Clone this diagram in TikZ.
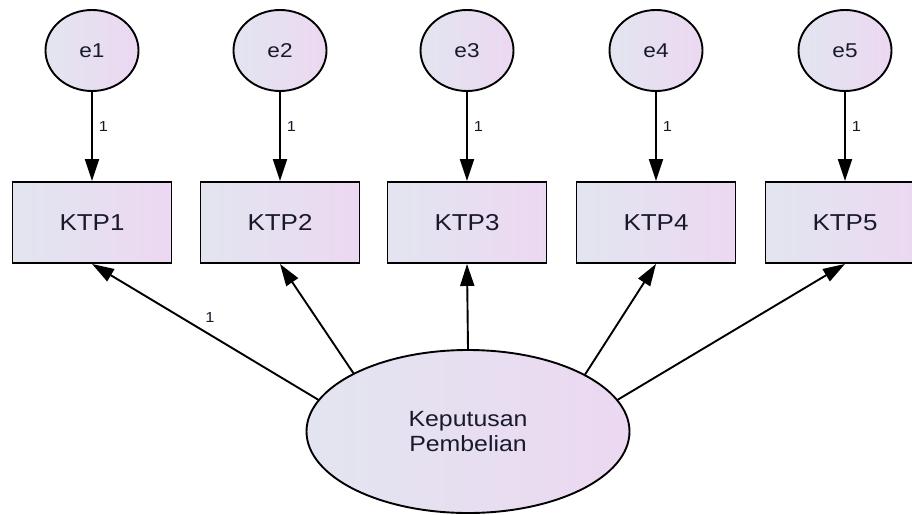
\documentclass[tikz,border=0pt]{standalone}
\usepackage{fontspec}
\setmainfont{Liberation Sans}
\usetikzlibrary{arrows.meta,shapes.geometric}
\definecolor{gleft}{RGB}{226,229,239}
\definecolor{gright}{RGB}{236,216,242}
\definecolor{txt}{RGB}{25,25,45}
\newcommand\widetext[1]{\scalebox{1.13}[1]{#1}}
\tikzset{
  shade box/.style={draw=black, line width=1.9pt, left color=gleft, right color=gright, text=txt},
  errnode/.style={shade box, ellipse, minimum width=93pt, minimum height=81pt, inner sep=0pt, font=\fontsize{20}{24}\selectfont},
  obsnode/.style={shade box, rectangle, minimum width=159pt, minimum height=81pt, inner sep=0pt, font=\fontsize{23}{27}\selectfont},
  latnode/.style={shade box, ellipse, minimum width=323pt, minimum height=163pt, inner sep=0pt, align=center, font=\fontsize{22}{25}\selectfont},
  conn/.style={line width=1.9pt, -{Triangle[length=22pt,width=14pt]}},
  wlabel/.style={font=\fontsize{14.5}{16}\selectfont, text=txt, inner sep=0pt}
}
\begin{document}
\begin{tikzpicture}[x=1pt,y=-1pt]
\clip (0,0) rectangle (912,514);
\fill[white] (0,0) rectangle (912,514);
\foreach \i/\cx in {1/92,2/280,3/467,4/656,5/845}{
  \node[errnode] (e\i) at (\cx,50.5) {\widetext{e\i}};
  \node[obsnode] (k\i) at (\cx,222.5) {\widetext{KTP\i}};
  \draw[conn] (e\i.south) -- (k\i.north);
  \node[wlabel] (l\i) at (\cx+11.5,127) {\widetext{1}};
}
\node[latnode] (kp) at (468,431.5) {\widetext{Keputusan}\\\widetext{Pembelian}};
\draw[conn] (kp.168) -- (k1.south);
\draw[conn] (kp.153.4) -- (k2.south);
\draw[conn] (kp.90) -- (k3.south);
\draw[conn] (kp.26.6) -- (k4.south);
\draw[conn] (kp.12) -- (k5.south);
\node[wlabel] (lk1) at (210,318) {\widetext{1}};
\end{tikzpicture}
\end{document}
